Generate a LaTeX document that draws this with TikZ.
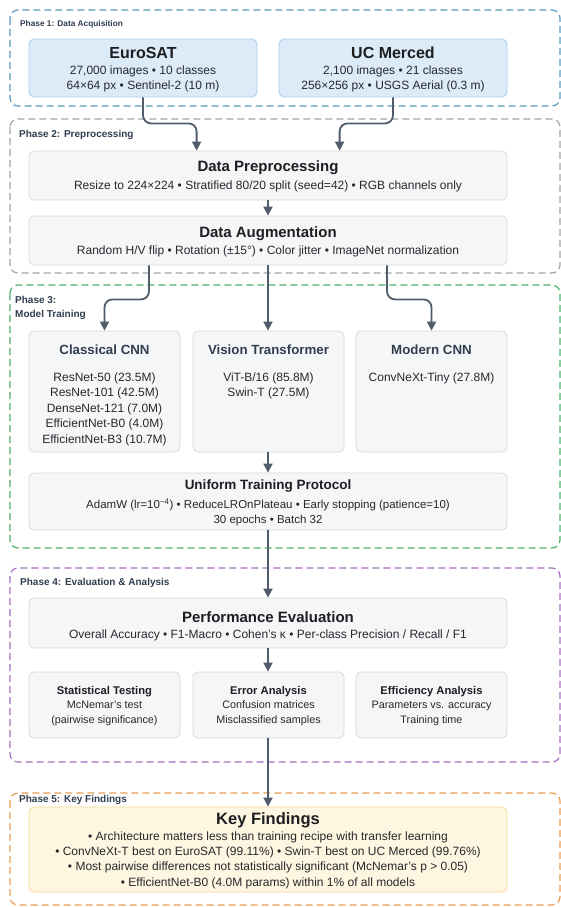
\documentclass[tikz,border=0pt]{standalone}
\usepackage{fontspec}
\setmainfont{Liberation Sans}
\usetikzlibrary{arrows.meta,calc}
\definecolor{pone}{RGB}{90,155,192}
\definecolor{ptwo}{RGB}{165,165,165}
\definecolor{pthree}{RGB}{78,178,108}
\definecolor{pfour}{RGB}{168,112,192}
\definecolor{pfive}{RGB}{234,156,84}
\definecolor{bluefill}{RGB}{221,235,248}
\definecolor{blueline}{RGB}{172,206,230}
\definecolor{grayfill}{RGB}{245,246,247}
\definecolor{grayline}{RGB}{214,217,221}
\definecolor{yelfill}{RGB}{254,246,224}
\definecolor{yelline}{RGB}{244,220,150}
\definecolor{arrowc}{RGB}{80,92,106}
\definecolor{labc}{RGB}{48,62,80}
\definecolor{titc}{RGB}{28,30,34}
\definecolor{bodyc}{RGB}{38,40,44}
\newcommand{\fs}[2]{\fontsize{#1}{#2}\selectfont}
\begin{document}
\begin{tikzpicture}[x=1pt,y=-1pt,
  phasebox/.style={draw=#1, line width=1.2pt, dash pattern=on 7pt off 4pt, rounded corners=8pt},
  plabel/.style={anchor=west, inner sep=0, font=\fs{10}{13}\bfseries, text=labc, align=left},
  bbox/.style={draw=blueline, fill=bluefill, line width=0.8pt, rounded corners=5pt, inner sep=0},
  gbox/.style={draw=grayline, fill=grayfill, line width=0.8pt, rounded corners=5pt, inner sep=0},
  ybox/.style={draw=yelline, fill=yelfill, line width=0.8pt, rounded corners=5pt, inner sep=0},
  ttl/.style={inner sep=0, text=titc, font=\fs{#1}{#1}\bfseries},
  ctl/.style={inner sep=0, text=labc, font=\fs{13.3}{13.3}\bfseries},
  txt/.style={inner sep=0, text=bodyc, align=center, font=\fs{#1}{15}},
  arr/.style={draw=arrowc, line width=1.8pt, rounded corners=8pt, -{Triangle[length=9pt,width=9pt]}}
]
\useasboundingbox (0,0) rectangle (561,907);
\fill[white] (0,0) rectangle (561,907);

% phase frames
\draw[phasebox=pone] (10,10) rectangle (560,106);
\draw[phasebox=ptwo] (10,119) rectangle (560,273);
\draw[phasebox=pthree] (10,285) rectangle (560,548);
\draw[phasebox=pfour] (10,568) rectangle (560,762);
\draw[phasebox=pfive] (10,793) rectangle (560,905);

\node[plabel, font=\fs{8.3}{10}\bfseries] (l1) at (20,24) {Phase 1: Data Acquisition};
\node[plabel] (l2) at (19,135) {Phase 2: Preprocessing};
\node[plabel, font=\fs{10}{14}\bfseries] (l3) at (15,308) {Phase 3:\\Model Training};
\node[plabel] (l4) at (20,583) {Phase 4: Evaluation \& Analysis};
\node[plabel] (l5) at (19,800) {Phase 5: Key Findings};

% Phase 1
\node[bbox, minimum width=228pt, minimum height=58pt] (euro) at (143,68) {};
\node[ttl=16] (euroT) at (143,53) {EuroSAT};
\node[txt=12] (euroB) at (143,78.5) {27,000 images • 10 classes\\64×64 px • Sentinel-2 (10 m)};
\node[bbox, minimum width=228pt, minimum height=58pt] (ucm) at (393,68) {};
\node[ttl=16] (ucmT) at (393,53) {UC Merced};
\node[txt=12] (ucmB) at (393,78.5) {2,100 images • 21 classes\\256×256 px • USGS Aerial (0.3 m)};

% Phase 2
\node[gbox, minimum width=478pt, minimum height=49pt] (prep) at (268,175.5) {};
\node[ttl=15] (prepT) at (268,168) {Data Preprocessing};
\node[txt=12] (prepB) at (268,186) {Resize to 224×224 • Stratified 80/20 split (seed=42) • RGB channels only};
\node[gbox, minimum width=478pt, minimum height=49pt] (aug) at (268,240.5) {};
\node[ttl=15] (augT) at (268,234) {Data Augmentation};
\node[txt=12] (augB) at (268,251) {Random H/V flip • Rotation (±15°) • Color jitter • ImageNet normalization};

% Phase 3
\node[gbox, minimum width=151pt, minimum height=121pt] (cls) at (104.5,391.5) {};
\node[ctl] (clsT) at (104.5,350) {Classical CNN};
\node[txt=12, font=\fs{12}{15.5}] (clsB) at (104.5,409) {ResNet-50 (23.5M)\\ResNet-101 (42.5M)\\DenseNet-121 (7.0M)\\EfficientNet-B0 (4.0M)\\EfficientNet-B3 (10.7M)};
\node[gbox, minimum width=151pt, minimum height=121pt] (vit) at (268.5,391.5) {};
\node[ctl] (vitT) at (268.5,350) {Vision Transformer};
\node[txt=12, font=\fs{12}{15.5}] (vitB) at (268.5,385.75) {ViT-B/16 (85.8M)\\Swin-T (27.5M)};
\node[gbox, minimum width=151pt, minimum height=121pt] (mod) at (431.5,391.5) {};
\node[ctl] (modT) at (431.5,350) {Modern CNN};
\node[txt=12] (modB) at (431.5,378) {ConvNeXt-Tiny (27.8M)};
\node[gbox, minimum width=478pt, minimum height=57pt] (uni) at (268,501.5) {};
\node[ttl=13.5] (uniT) at (268,486) {Uniform Training Protocol};
\node[txt=11.5, font=\fs{11.5}{14.5}] (uniB) at (268,512) {AdamW (lr=10\textsuperscript{\char"2212 4}) • ReduceLROnPlateau • Early stopping (patience=10)\\30 epochs • Batch 32};

% Phase 4
\node[gbox, minimum width=478pt, minimum height=50pt] (perf) at (268,623) {};
\node[ttl=15] (perfT) at (268,617) {Performance Evaluation};
\node[txt=12] (perfB) at (268,635) {Overall Accuracy • F1-Macro • Cohen’s κ • Per-class Precision / Recall / F1};
\node[gbox, minimum width=151pt, minimum height=66pt] (stat) at (104.5,705) {};
\node[ttl=11.2] (statT) at (104.5,691.5) {Statistical Testing};
\node[txt=10.8] (statB) at (104.5,713.5) {McNemar’s test\\(pairwise significance)};
\node[gbox, minimum width=151pt, minimum height=66pt] (err) at (268.5,705) {};
\node[ttl=11.2] (errT) at (268.5,691.5) {Error Analysis};
\node[txt=10.8] (errB) at (268.5,713.5) {Confusion matrices\\Misclassified samples};
\node[gbox, minimum width=151pt, minimum height=66pt] (eff) at (431.5,705) {};
\node[ttl=11.2] (effT) at (431.5,691.5) {Efficiency Analysis};
\node[txt=10.8] (effB) at (431.5,713.5) {Parameters vs. accuracy\\Training time};

% Phase 5
\node[ybox, minimum width=478pt, minimum height=85pt] (key) at (268,849.5) {};
\node[ttl=16.5] (keyT) at (268,820) {Key Findings};
\node[txt=12, font=\fs{12}{15.3}] (keyB) at (268,860) {• Architecture matters less than training recipe with transfer learning\\• ConvNeXt-T best on EuroSAT (99.11\%) • Swin-T best on UC Merced (99.76\%)\\• Most pairwise differences not statistically significant (McNemar’s p > 0.05)\\• EfficientNet-B0 (4.0M params) within 1\% of all models};

% connectors
\draw[arr] (euro.south) -- ++(0,26) -| ($(prep.north west)+(168,0)$);
\draw[arr] (ucm.south) -- ++(0,26) -| ($(prep.north west)+(311,0)$);
\draw[arr] (prep.south) -- (aug.north);
\draw[arr] ($(aug.south)+(-119,0)$) -- ++(0,34) -| (cls.north);
\draw[arr] (aug.south) -- (aug.south |- vit.north);
\draw[arr] ($(aug.south)+(119,0)$) -- ++(0,34) -| (mod.north);
\draw[arr] (vit.south -| uni.north) -- (uni.north);
\draw[arr] (uni.south) -- (perf.north);
\draw[arr] (perf.south) -- (perf.south |- err.north);
\draw[arr] (perf.south |- err.south) -- (key.north);
\end{tikzpicture}
\end{document}
